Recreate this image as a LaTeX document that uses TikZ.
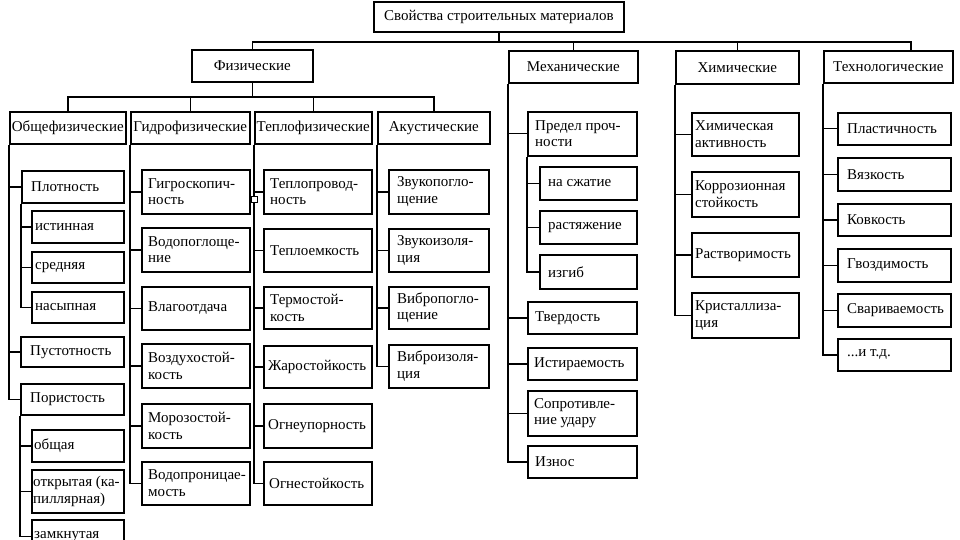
\documentclass[tikz,border=0pt]{standalone}
\usepackage{fontspec}
\setmainfont{Liberation Serif}
\tikzset{
  boxshape/.style={draw, line width=1.6pt, inner sep=0pt},
  txt/.style={inner sep=0pt, align=left, font=\fontsize{15}{16.5}\selectfont},
  conn/.style={line width=1.4pt},
  tinysq/.style={draw, line width=0.8pt, fill=white, minimum size=6pt, inner sep=0pt}
}
% \bx{name}{x}{y}{w}{h}{pad}{text}
\newcommand{\bx}[7]{\node[boxshape, minimum width=#4pt, minimum height=#5pt, anchor=north west] (#1) at (#2,#3) {};
  \node[txt, anchor=west] (#1-t) at ([xshift=#6pt]#1.west) {#7};}
% \hd{name}{x}{y}{w}{h}{text}
\newcommand{\hd}[6]{\node[boxshape, minimum width=#4pt, minimum height=#5pt, anchor=north west] (#1) at (#2,#3) {};
  \node[txt, align=center] (#1-t) at (#1.center) {#6};}
\begin{document}
\begin{tikzpicture}[x=1pt,y=-1pt]
\useasboundingbox (0,0) rectangle (960,540);
\clip (0,0) rectangle (960,540);
\fill[white] (0,0) rectangle (960,540);
% root and main categories
\hd{root}{373}{1}{250}{30}{Свойства строительных материалов}
\hd{phys}{191}{49}{121}{32}{Физические}
\hd{mech}{508}{50}{129}{32}{Механические}
\hd{chem}{675}{50}{123}{33}{Химические}
\hd{tech}{823}{50}{129}{32}{Технологические}
% physical subcategories
\hd{obsh}{9}{111}{116}{32}{Общефизические}
\hd{gidro}{130}{111}{119}{32}{Гидрофизические}
\hd{teplo}{254}{111}{117}{32}{Теплофизические}
\hd{akust}{377}{111}{112}{32}{Акустические}
% Общефизические
\bx{plot}{21}{170}{102}{32}{10}{Плотность}
\bx{ist}{31}{210}{92}{32}{4}{истинная}
\bx{sred}{31}{251}{92}{31}{4}{средняя}
\bx{nas}{31}{291}{92}{31}{4}{насыпная}
\bx{pust}{20}{336}{103}{30}{10}{Пустотность}
\bx{por}{20}{383}{103}{31}{10}{Пористость}
\bx{obshch}{31}{429}{92}{32}{3}{общая}
\bx{otkr}{31}{469}{92}{43}{2}{открытая (ка-\\пиллярная)}
\bx{zamk}{31}{519}{92}{33}{3}{замкнутая}
% Гидрофизические
\bx{g1}{141}{169}{108}{44}{7}{Гигроскопич-\\ность}
\bx{g2}{141}{227}{108}{44}{7}{Водопоглоще-\\ние}
\bx{g3}{141}{286}{108}{43}{7}{Влагоотдача}
\bx{g4}{141}{343}{108}{44}{7}{Воздухостой-\\кость}
\bx{g5}{141}{403}{108}{44}{7}{Морозостой-\\кость}
\bx{g6}{141}{461}{108}{43}{7}{Водопроницае-\\мость}
% Теплофизические
\bx{t1}{263}{169}{108}{44}{7}{Теплопровод-\\ность}
\bx{t2}{263}{228}{108}{43}{7}{Теплоемкость}
\bx{t3}{263}{286}{108}{42}{7}{Термостой-\\кость}
\bx{t4}{263}{345}{108}{42}{5}{Жаростойкость}
\bx{t5}{263}{403}{108}{44}{5}{Огнеупорность}
\bx{t6}{263}{461}{108}{43}{6}{Огнестойкость}
% Акустические
\bx{a1}{388}{169}{100}{44}{9}{Звукопогло-\\щение}
\bx{a2}{388}{228}{100}{43}{9}{Звукоизоля-\\ция}
\bx{a3}{388}{286}{100}{42}{9}{Вибропогло-\\щение}
\bx{a4}{388}{344}{100}{43}{9}{Виброизоля-\\ция}
% Механические
\bx{m1}{527}{111}{109}{44}{8}{Предел проч-\\ности}
\bx{m1a}{539}{166}{97}{33}{9}{на сжатие}
\bx{m1b}{539}{210}{97}{33}{9}{растяжение}
\bx{m1c}{539}{254}{97}{34}{9}{изгиб}
\bx{m2}{527}{301}{109}{32}{8}{Твердость}
\bx{m3}{527}{347}{109}{32}{7}{Истираемость}
\bx{m4}{527}{390}{109}{45}{7}{Сопротивле-\\ние удару}
\bx{m5}{527}{445}{109}{32}{8}{Износ}
% Химические
\bx{c1}{691}{112}{107}{43}{4}{Химическая\\активность}
\bx{c2}{691}{171}{107}{45}{4}{Коррозионная\\стойкость}
\bx{c3}{691}{232}{107}{44}{4}{Растворимость}
\bx{c4}{691}{292}{107}{45}{4}{Кристаллиза-\\ция}
% Технологические
\bx{e1}{837}{112}{113}{32}{10}{Пластичность}
\bx{e2}{837}{157}{113}{33}{10}{Вязкость}
\bx{e3}{837}{203}{113}{32}{10}{Ковкость}
\bx{e4}{837}{248}{113}{33}{10}{Гвоздимость}
\bx{e5}{837}{293}{113}{33}{10}{Свариваемость}
\bx{e6}{837}{338}{113}{32}{10}{...и т.д.}
% top-level connectors
\draw[conn] (phys.north) -- ++(0,-7) -| (root.south);
\draw[conn] (mech.north) -- ++(0,-8) -| (root.south);
\draw[conn] (chem.north) -- ++(0,-8) -| (root.south);
\draw[conn] ([xshift=22.5pt]tech.north) -- ++(0,-8) -| (root.south);
% physical bus
\foreach \s in {obsh,gidro,teplo,akust}
  \draw[conn] (\s.north) -- ++(0,-14) -| (phys.south);
% children
\foreach \c in {plot,pust,por} \draw[conn] (obsh.south west) |- (\c.west);
\foreach \c in {ist,sred,nas} \draw[conn] (plot.south west) |- (\c.west);
\foreach \c in {obshch,otkr,zamk} \draw[conn] (por.south west) |- (\c.west);
\foreach \c in {g1,g2,g3,g4,g5,g6} \draw[conn] (gidro.south west) |- (\c.west);
\foreach \c in {t1,t2,t3,t4,t5,t6} \draw[conn] (teplo.south west) |- (\c.west);
\foreach \c in {a1,a2,a3,a4} \draw[conn] (akust.south west) |- (\c.west);
\foreach \c in {m1,m2,m3,m4,m5} \draw[conn] (mech.south west) |- (\c.west);
\foreach \c in {m1a,m1b,m1c} \draw[conn] (m1.south west) |- (\c.west);
\foreach \c in {c1,c2,c3,c4} \draw[conn] (chem.south west) |- (\c.west);
\foreach \c in {e1,e2,e3,e4,e5,e6} \draw[conn] (tech.south west) |- (\c.west);
% small square on the trunk
\node[tinysq] (sq) at (254,199.5) {};
\end{tikzpicture}
\end{document}
